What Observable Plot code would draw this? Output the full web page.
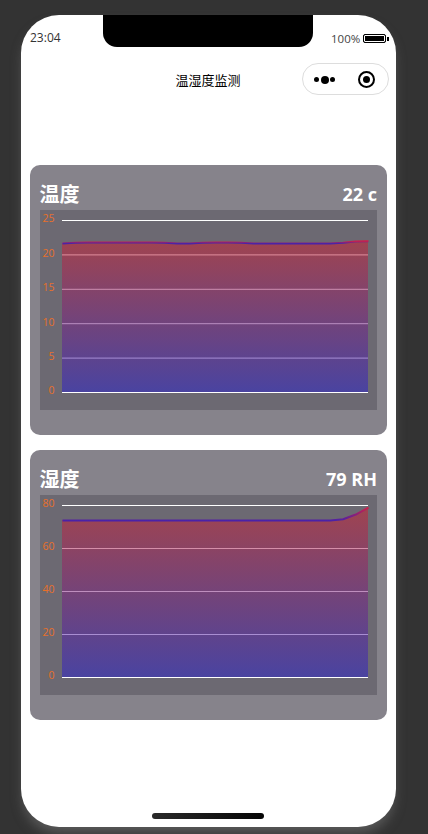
<!DOCTYPE html>
<html lang="zh">
<head>
<meta charset="utf-8">
<script src="https://cdn.jsdelivr.net/npm/d3@7"></script>
<script src="https://cdn.jsdelivr.net/npm/@observablehq/plot@0.6"></script>
<style>
html,body{margin:0;padding:0;width:428px;height:834px;overflow:hidden;background:#333;}
body{position:relative;font-family:"Open Sans","Noto Sans CJK SC",sans-serif;}
.abs{position:absolute;}
#phone{left:21px;top:15px;width:375px;height:812px;background:#fff;border-radius:38px;box-shadow:0 8px 12px -2px rgba(130,130,130,.5);}
#notch{left:103px;top:15px;width:210px;height:32px;background:#000;border-radius:0 0 14px 14px;}
#time{left:30px;top:30px;font:12px/15px "Open Sans",sans-serif;color:#333;}
#batt-t{left:331px;top:31px;font:11.5px/15px "Open Sans",sans-serif;color:#444;}
#batt{left:363px;top:34px;width:21px;height:7px;border:1.5px solid #000;border-radius:2px;background:#000;box-shadow:inset 0 0 0 1px #fff;}
#batt-n{left:387px;top:37px;width:1.5px;height:4px;background:#000;}
#title{left:108px;top:71px;width:200px;text-align:center;font:13px/18px "Noto Sans CJK SC",sans-serif;color:#000;}
#capsule{left:302px;top:63px;width:85px;height:30px;border:1px solid #ddd;border-radius:16px;background:#fff;}
.dot{background:#000;border-radius:50%;}
#ring{left:357.5px;top:70.5px;width:13px;height:13px;border:2.2px solid #000;border-radius:50%;}
#ring-c{left:362.5px;top:75.5px;width:7px;height:7px;background:#000;border-radius:50%;}
#home{left:152px;top:813px;width:112px;height:6px;border-radius:3px;background:linear-gradient(90deg,#2a2a2a,#050505);}
.card{left:30px;width:357px;height:270px;background:#86838b;border-radius:10px;}
.name{left:39.5px;font:700 20px/28px "Noto Sans CJK SC",sans-serif;color:#fff;}
.val{right:51px;font:700 18px/26px "Open Sans",sans-serif;color:#fff;}
.box{left:40px;width:337px;height:200px;background:#6c6972;}
.box svg{display:block;}
</style>
</head>
<body>
<div class="abs" id="phone"></div>
<div class="abs" id="notch"></div>
<div class="abs" id="time">23:04</div>
<div class="abs" id="batt-t">100%</div>
<div class="abs" id="batt"></div>
<div class="abs" id="batt-n"></div>
<div class="abs" id="title">温湿度监测</div>
<div class="abs" id="capsule"></div>
<div class="abs dot" style="left:314px;top:77px;width:5px;height:5px"></div>
<div class="abs dot" style="left:321px;top:75.5px;width:8px;height:8px"></div>
<div class="abs dot" style="left:330px;top:77px;width:5px;height:5px"></div>
<div class="abs" id="ring"></div>
<div class="abs" id="ring-c"></div>
<div class="abs" id="home"></div>

<div class="abs card" style="top:165px"></div>
<div class="abs name" style="top:180px">温度</div>
<div class="abs val" style="top:181px">22 c</div>
<div class="abs box" id="c1" style="top:210px"></div>

<div class="abs card" style="top:450px"></div>
<div class="abs name" style="top:465px">湿度</div>
<div class="abs val" style="top:466px">79 RH</div>
<div class="abs box" id="c2" style="top:495px"></div>

<script>
const tempValues = [21.65,21.75,21.8,21.8,21.8,21.8,21.8,21.8,21.75,21.65,21.65,21.75,21.8,21.8,21.75,21.65,21.65,21.65,21.65,21.65,21.65,21.65,21.75,21.95,22];
const humValues = [73,73,73,73,73,73,73,73,73,73,73,73,73,73,73,73,73,73,73,73,73,73,73.6,75.8,79];
const tempTicks = [0,5,10,15,20,25];
const humTicks = [0,20,40,60,80];

function gradientDefs(id){
  return () => {
    const defs = d3.create("svg:defs");
    const a = defs.append("linearGradient").attr("id","area"+id).attr("x1",0).attr("y1",0).attr("x2",0).attr("y2",1);
    a.append("stop").attr("offset",0).attr("stop-color","rgb(212,30,46)");
    a.append("stop").attr("offset",1).attr("stop-color","rgb(40,30,206)");
    const l = defs.append("linearGradient").attr("id","line"+id).attr("x1",0).attr("y1",0).attr("x2",0).attr("y2",1);
    l.append("stop").attr("offset",0).attr("stop-color","#d01f48");
    l.append("stop").attr("offset",1).attr("stop-color","#4a22a8");
    return defs.node();
  };
}

function draw(target, id, values, ticks, top){
  const data = values.map((v,i)=>({i,v}));
  const plot = Plot.plot({
    width:337,height:200,
    marginLeft:22,marginRight:9,marginTop:10,marginBottom:18,
    style:{background:"transparent"},
    x:{domain:[0,values.length-1],axis:null},
    y:{domain:[0,top],ticks,label:null},
    marks:[
      gradientDefs(id),
      Plot.axisY(ticks,{tickSize:0,tickPadding:8,fill:"#e8702a",fontSize:10.5,label:null,dy:-1.5,fontFamily:"Open Sans, sans-serif"}),
      Plot.ruleY(ticks,{stroke:"#fff",strokeWidth:1}),
      Plot.areaY(data,{x:"i",y:"v",y1:0,y2:"v",fill:`url(#area${id})`,fillOpacity:0.5}),
      Plot.lineY(data,{x:"i",y:"v",stroke:`url(#line${id})`,strokeWidth:2,strokeLinecap:"butt"})
    ]
  });
  document.getElementById(target).appendChild(plot);
}
draw("c1","T",tempValues,tempTicks,25);
draw("c2","H",humValues,humTicks,80);
</script>
</body>
</html>
